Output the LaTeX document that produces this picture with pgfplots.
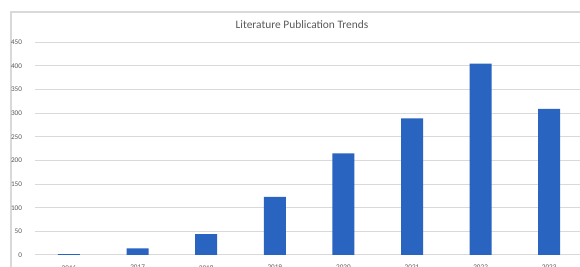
\documentclass[border=0pt]{standalone}
\usepackage{pgfplots}
\pgfplotsset{compat=1.18}
\usepackage{fontspec}
\setmainfont{Carlito}
\definecolor{barblue}{RGB}{41,101,192}
\definecolor{gridgray}{RGB}{217,217,217}
\definecolor{txtgray}{RGB}{89,89,89}
\begin{document}
\begin{tikzpicture}
\path[use as bounding box] (0,0) rectangle (290pt,133.5pt);
\fill[white] (0,0) rectangle (290pt,133.5pt);
\draw[gridgray, line width=0.6pt] (5.5pt,0pt) -- (5.5pt,127.5pt) -- (290pt,127.5pt);
\node[font=\fontsize{5.7pt}{6pt}\selectfont, text=txtgray] at (151pt,121pt) {Literature Publication Trends};
\begin{axis}[
  at={(17.35pt,6pt)}, anchor=south west,
  scale only axis,
  width=272.65pt, height=106.35pt,
  xmin=-0.5, xmax=7.449,
  ymin=0, ymax=450,
  ybar, bar width=11pt,
  ytick={0,50,...,450},
  xtick={0,...,7},
  xticklabels={2016,2017,2018,2019,2020,2021,2022,2023},
  axis x line*=bottom,
  axis y line*=left,
  x axis line style={draw=gridgray, line width=0.5pt, -},
  y axis line style={draw=none, -},
  xtick style={draw=none}, ytick style={draw=none},
  major tick length=0pt,
  ymajorgrids,
  grid style={gridgray, line width=0.5pt},
  tick label style={font=\fontsize{3.6pt}{4pt}\selectfont, text=txtgray},
  /pgf/number format/assume math mode=true,
  xticklabel style={yshift=-1.6pt},
  yticklabel style={xshift=-2.8pt},
]
\addplot[fill=barblue, draw=none] coordinates {
  (0,2) (1,14) (2,44) (3,123) (4,215) (5,289) (6,405) (7,309)
};
\end{axis}
\end{tikzpicture}
\end{document}
